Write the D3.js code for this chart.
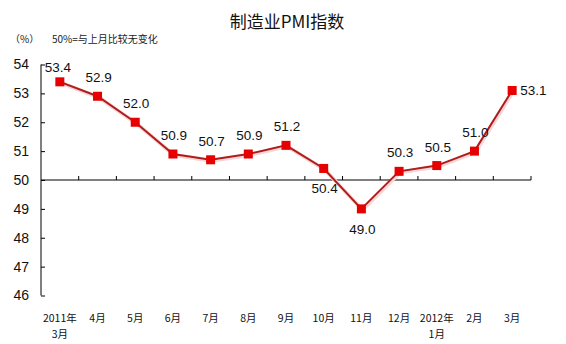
<!DOCTYPE html>
<html><head><meta charset="utf-8">
<script src="https://cdn.jsdelivr.net/npm/d3@7"></script>
<style>body{margin:0;background:#fff}svg{display:block}</style>
</head><body><svg id="c" width="566" height="344"></svg>
<script>
const categories = ["2011年\n3月","4月","5月","6月","7月","8月","9月","10月","11月","12月","2012年\n1月","2月","3月"];
const pmi = [53.4,52.9,52.0,50.9,50.7,50.9,51.2,50.4,49.0,50.3,50.5,51.0,53.1];
const labelPos = ["tl","t","t","t","t","t","t","b","b","t","t","t","r"];
const yTicks = [46,47,48,49,50,51,52,53,54];

const svg = d3.select("#c");
const L = 41, R = 531, T = 64.5, B = 295.5;
const x = d3.scaleBand().domain(d3.range(categories.length)).range([L, R]);
const y = d3.scaleLinear().domain([46, 54]).range([B, T]);
const cx = i => x(i) + x.bandwidth() / 2;

svg.append("text").attr("x", 287).attr("y", 28).attr("text-anchor", "middle")
  .attr("font-family", "Noto Sans CJK SC").attr("font-size", 17).attr("fill", "#111")
  .text("制造业PMI指数");
svg.append("text").attr("x", 10).attr("y", 43)
  .attr("font-family", "Noto Sans CJK SC").attr("font-size", 10).attr("fill", "#222").text("（%）");
svg.append("text").attr("x", 52).attr("y", 43)
  .attr("font-family", "Noto Sans CJK SC").attr("font-size", 10).attr("fill", "#222").text("50%=与上月比较无变化");

// y axis
const yAxis = d3.axisLeft(y).tickValues(yTicks).tickSize(-4).tickPadding(12).tickFormat(d3.format("d"));
const gy = svg.append("g").attr("transform", `translate(${L},0)`).call(yAxis);
gy.select(".domain").remove();
svg.append("path").attr("d", `M${L},${y(54)}V${y(46)}`).attr("stroke", "#000").attr("fill", "none");
gy.selectAll(".tick line").attr("stroke", "#000");
gy.selectAll(".tick text").attr("font-family", "Liberation Sans, Arial").attr("font-size", 14).attr("fill", "#111");

// x axis at 50
const xAxisLine = svg.append("g");
xAxisLine.append("path").attr("d", `M${L},${y(50)}H${R}`).attr("stroke", "#000").attr("fill", "none");
xAxisLine.selectAll("line.tk").data(d3.range(1, categories.length + 1)).join("line")
  .attr("x1", i => x(0) + i * x.step()).attr("x2", i => x(0) + i * x.step())
  .attr("y1", y(50)).attr("y2", y(50) - 4).attr("stroke", "#000");

// x labels
const xl = svg.append("g");
categories.forEach((c, i) => {
  const lines = c.split("\n");
  lines.forEach((s, k) => {
    xl.append("text").attr("x", cx(i)).attr("y", 322 + k * 16).attr("text-anchor", "middle")
      .attr("font-family", "Noto Sans CJK SC").attr("font-size", 10.5).attr("fill", "#111").text(s);
  });
});

// line
const line = d3.line().x((d, i) => cx(i)).y(d => y(d));
svg.append("path").datum(pmi).attr("d", line).attr("fill", "none")
  .attr("stroke", "#f6d6d6").attr("stroke-width", 4).attr("transform", "translate(1,1)");
svg.append("path").datum(pmi).attr("d", line).attr("fill", "none")
  .attr("stroke", "#b01c1c").attr("stroke-width", 2);
svg.selectAll("rect.m").data(pmi).join("rect")
  .attr("x", (d, i) => cx(i) - 4.5).attr("y", d => y(d) - 4.5)
  .attr("width", 9).attr("height", 9).attr("fill", "#e60000");

// value labels
svg.selectAll("text.v").data(pmi).join("text")
  .attr("x", (d, i) => labelPos[i] === "r" ? cx(i) + 8 : labelPos[i] === "tl" ? cx(i) - 2 : cx(i) + 1)
  .attr("y", (d, i) => labelPos[i] === "b" ? y(d) + 25 : labelPos[i] === "r" ? y(d) + 5 : labelPos[i] === "tl" ? y(d) - 10 : y(d) - 14)
  .attr("text-anchor", (d, i) => labelPos[i] === "r" ? "start" : "middle")
  .attr("font-family", "Liberation Sans, Arial").attr("font-size", 13.5).attr("fill", "#111")
  .text(d => d.toFixed(1));
</script></body></html>
